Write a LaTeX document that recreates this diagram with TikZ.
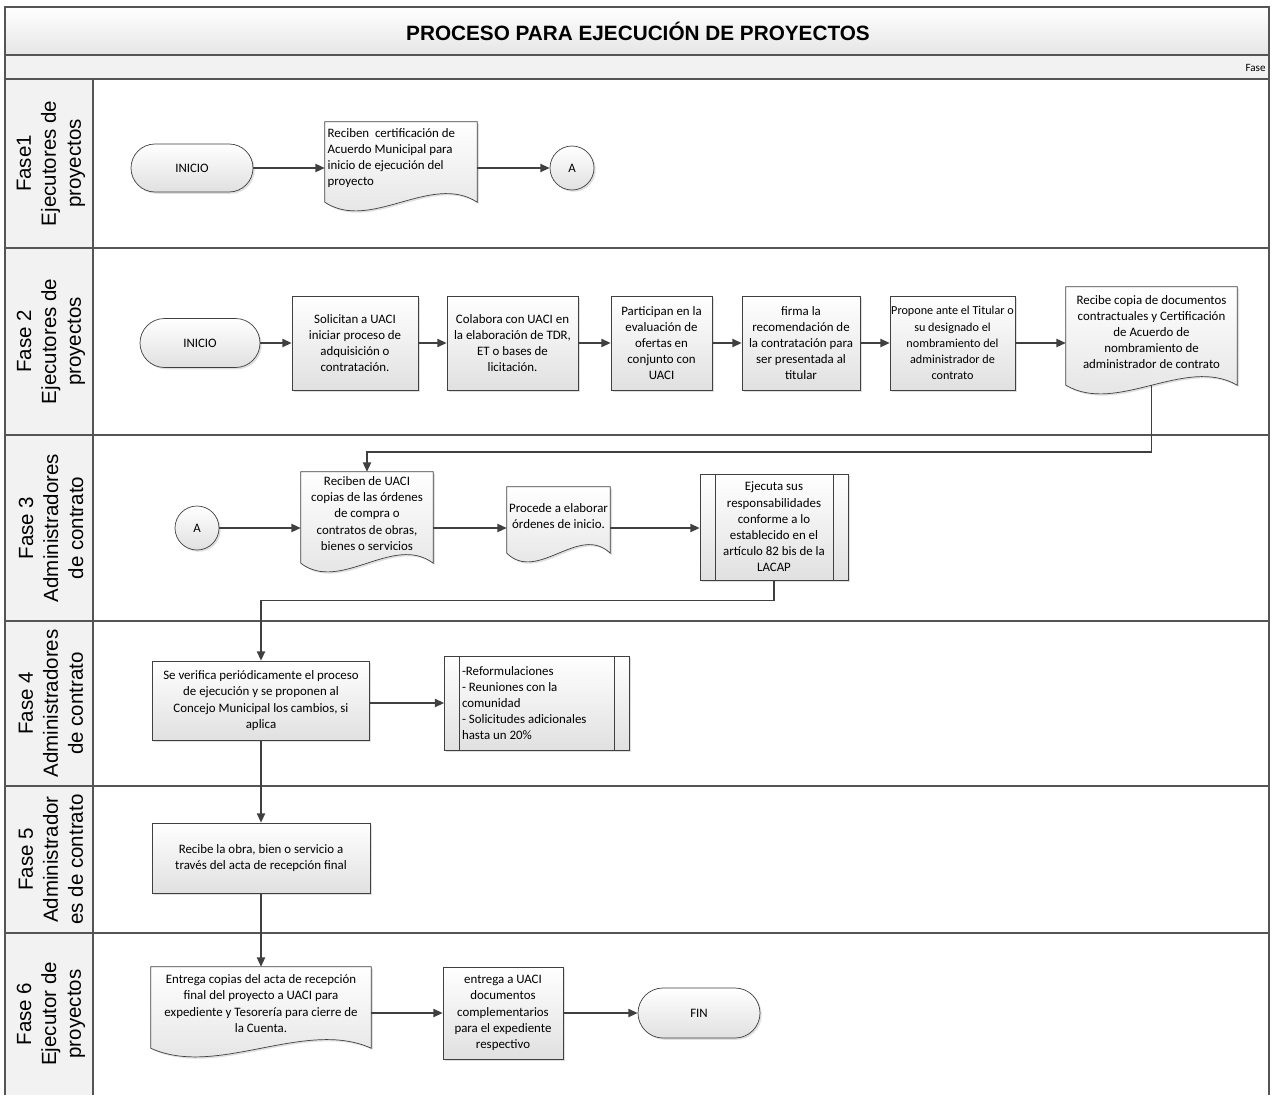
\documentclass[tikz,border=0pt]{standalone}
\usepackage{fontspec}
\setmainfont{Carlito}
\newfontfamily\lanefont{Liberation Sans}
\usetikzlibrary{arrows.meta}
\usetikzlibrary{calc}
\usetikzlibrary{backgrounds}
\usetikzlibrary{shadows}

\definecolor{linea}{HTML}{404040}
\definecolor{marco}{HTML}{555555}

\tikzset{
  sombra/.style={drop shadow={shadow xshift=1.5pt, shadow yshift=-1.5pt, fill=black!25}},
  relleno/.style={draw=linea, line width=0.6pt, top color=white, bottom color=black!12, sombra},
  texto/.style={font=\fontsize{11}{13.8}\selectfont, align=center},
  caja/.style 2 args={relleno, texto, minimum width=#1*0.03cm, minimum height=#2*0.03cm, inner sep=1pt},
  term/.style 2 args={caja={#1}{#2}, rounded corners=#2*0.015cm},
  doc/.style 2 args={texto, minimum width=#1*0.03cm, minimum height=#2*0.03cm, inner sep=1pt},
  sub/.style 2 args={caja={#1}{#2},
    path picture={\draw[linea, line width=0.6pt]
      ([xshift=0.45cm]path picture bounding box.north west) -- ([xshift=0.45cm]path picture bounding box.south west)
      ([xshift=-0.45cm]path picture bounding box.north east) -- ([xshift=-0.45cm]path picture bounding box.south east);}},
  circulo/.style={circle, relleno, texto, minimum size=1.32cm, inner sep=0pt},
  flecha/.style={draw=linea, line width=1.4pt, -{Triangle[length=8pt,width=7pt]}},
  carril/.style={rotate=90, align=center, font=\lanefont\fontsize{17.5}{21.3}\selectfont},
  borde/.style={draw=marco, line width=1.6pt}
}

% documento con borde inferior ondulado
\newcommand{\docshape}[1]{%
  \path[relleno] (#1.north west) -- (#1.north east) -- ([yshift=-0.24cm]#1.south east)
    .. controls ($(#1.south east)!0.3!(#1.south west)+(0,-22)$) and ($(#1.south east)!0.7!(#1.south west)+(0,38)$) ..
    ([yshift=-0.24cm]#1.south west) -- cycle;}

\begin{document}
\begin{tikzpicture}[x=0.03cm, y=-0.03cm]
  \useasboundingbox (0,0) rectangle (1273,1095);

  % cabecera
  \shade[top color=white, bottom color=black!10] (5,7) rectangle (1269,55);
  \fill[black!5] (5,55) rectangle (1269,79);
  \node (titulo) at (638,31) {\lanefont\bfseries\fontsize{17.7}{20}\selectfont PROCESO PARA EJECUCIÓN DE PROYECTOS};
  \node[anchor=east, font=\fontsize{9.5}{11}\selectfont, inner sep=1pt] (fase) at (1267,68) {Fase};

  % carriles
  \foreach \ya/\yb/\txt in {79/248/{Fase1\\Ejecutores de\\proyectos},
                            248/435/{Fase 2\\Ejecutores de\\proyectos},
                            435/621/{Fase 3\\Administradores\\de contrato},
                            621/786/{Fase 4\\Administradores\\de contrato},
                            786/933/{Fase 5\\Administrador\\es de contrato},
                            933/1095/{Fase 6\\Ejecutor de\\proyectos}}
  {
    \fill[black!5] (5,\ya) rectangle (93,\yb);
    \node[carril] (carril\ya) at (51,{(\ya+\yb)/2}) {\txt};
    \draw[borde] (5,\ya) -- (1269,\ya);
  }
  \draw[borde] (5,1095) -- (5,7) -- (1269,7) -- (1269,1095);
  \draw[borde] (5,55) -- (1269,55);
  \draw[borde, line width=1.2pt] (93,79) -- (93,1095);

  % Fase 1
  \node[term={122}{48}] (ini1) at (192,168) {INICIO};
  \node[doc={152}{72}, align=flush left, text width=4.4cm] (rec1) at (401,158)
    {Reciben \ certificación de\\Acuerdo Municipal para\\inicio de ejecución del\\proyecto};
  \node[circulo] (A1) at (572,168) {A};

  % Fase 2
  \node[term={120}{49}] (ini2) at (200,343) {INICIO};
  \node[caja={126}{94}] (sol) at (355,343) {Solicitan a UACI\\iniciar proceso de\\adquisición o\\contratación.};
  \node[caja={131}{94}] (col) at (512.5,343) {Colabora con UACI en\\la elaboración de TDR,\\ET o bases de\\licitación.};
  \node[caja={101}{94}] (par) at (661.5,343) {Participan en la\\evaluación de\\ofertas en\\conjunto con\\UACI};
  \node[caja={118}{94}] (fir) at (801,343) {firma la\\recomendación de\\la contratación para\\ser presentada al\\titular};
  \node[caja={123}{94}, font=\fontsize{10.4}{13.8}\selectfont] (pro) at (952.5,343) {Propone ante el Titular o\\su designado el\\nombramiento del\\administrador de\\contrato};
  \node[doc={171}{90}] (cop) at (1151.5,332) {Recibe copia de documentos\\contractuales y Certificación\\de Acuerdo de\\nombramiento de\\administrador de contrato};

  % Fase 3
  \node[circulo] (A2) at (197,528) {A};
  \node[doc={132}{83}] (rua) at (367,513.5) {Reciben de UACI\\copias de las órdenes\\de compra o\\contratos de obras,\\bienes o servicios};
  \node[doc={103}{58}] (pro2) at (558.5,516) {Procede a elaborar\\órdenes de inicio.};
  \node[sub={148}{106}] (eje) at (774,527) {Ejecuta sus\\responsabilidades\\conforme a lo\\establecido en el\\artículo 82 bis de la\\LACAP};

  % Fase 4
  \node[caja={217}{79}] (ver) at (261,700.5) {Se verifica periódicamente el proceso\\de ejecución y se proponen al\\Concejo Municipal los cambios, si\\aplica};
  \node[sub={185}{94}, align=flush left, text width=4.5cm] (ref) at (537,703)
    {-Reformulaciones\\- Reuniones con la\\comunidad\\- Solicitudes adicionales\\hasta un 20\%};

  % Fase 5
  \node[caja={218}{70}] (rob) at (261,858) {Recibe la obra, bien o servicio a\\través del acta de recepción final};

  % Fase 6
  \node[doc={220}{73}] (ent) at (261,1003.5) {Entrega copias del acta de recepción\\final del proyecto a UACI para\\expediente y Tesorería para cierre de\\la Cuenta.};
  \node[caja={120}{92}] (euac) at (503,1013) {entrega a UACI\\documentos\\complementarios\\para el expediente\\respectivo};
  \node[term={122}{50}] (fin) at (699,1013) {FIN};

  % documentos
  \begin{pgfonlayer}{background}
    \docshape{rec1}
    \docshape{cop}
    \docshape{rua}
    \docshape{pro2}
    \docshape{ent}
  \end{pgfonlayer}

  % conectores
  \draw[flecha] (ini1) -- (ini1 -| rec1.west);
  \draw[flecha] (rec1.east |- A1) -- (A1);

  \draw[flecha] (ini2) -- (sol);
  \draw[flecha] (sol) -- (col);
  \draw[flecha] (col) -- (par);
  \draw[flecha] (par) -- (fir);
  \draw[flecha] (fir) -- (pro);
  \draw[flecha] (pro) -- (pro -| cop.west);
  \draw[flecha] ([yshift=-0.24cm]cop.south) -- ++(0,67) -| (rua.north);

  \draw[flecha] (A2) -- (A2 -| rua.west);
  \draw[flecha] (A2 -| rua.east) -- (A2 -| pro2.west);
  \draw[flecha] (A2 -| pro2.east) -- (A2 -| eje.west);
  \draw[flecha] (eje.south) -- ++(0,20) -| (ver.north);

  \draw[flecha] (ver.east |- ref) -- (ref);
  \draw[flecha] (ver) -- (rob);
  \draw[flecha] (rob) -- (ent);
  \draw[flecha] (ent.east |- euac) -- (euac);
  \draw[flecha] (euac) -- (fin);
\end{tikzpicture}
\end{document}
